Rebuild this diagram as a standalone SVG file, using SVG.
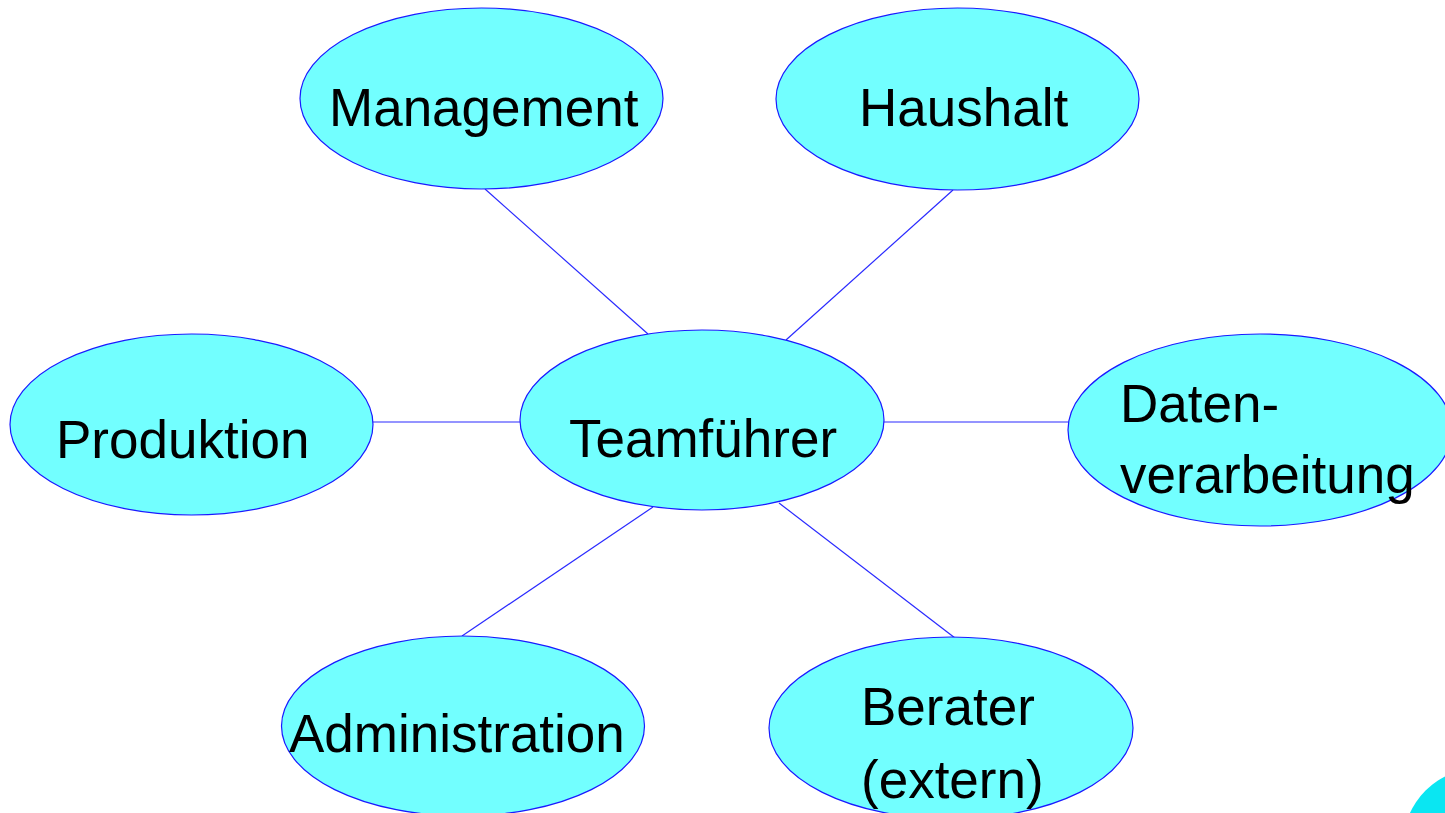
<svg xmlns="http://www.w3.org/2000/svg" width="1445" height="813" viewBox="0 0 1445 813">
  <style>
    .node ellipse { fill: #72ffff; stroke: #1a1aff; stroke-width: 1.2; }
    .node text { font-family: "Liberation Sans", Arial, sans-serif; font-size: 53px; fill: #000; }
    #connectors line { stroke: #2a2aff; stroke-width: 1.2; }
  </style>
  <rect x="0" y="0" width="1445" height="813" fill="#ffffff"/>

  <!-- spokes from the central node -->
  <g id="connectors">
    <line x1="485" y1="189" x2="648" y2="334"/>
    <line x1="953" y1="190" x2="786" y2="340"/>
    <line x1="373" y1="422" x2="520" y2="422"/>
    <line x1="884" y1="422" x2="1068" y2="422"/>
    <line x1="462" y1="636" x2="653" y2="507"/>
    <line x1="779" y1="503" x2="955" y2="638"/>
  </g>

  <g id="management" class="node">
    <ellipse cx="481.5" cy="98.5" rx="181.5" ry="90.5"/>
    <text x="329" y="126">Management</text>
  </g>
  <g id="haushalt" class="node">
    <ellipse cx="957.5" cy="99" rx="181.5" ry="91"/>
    <text x="859" y="126">Haushalt</text>
  </g>
  <g id="produktion" class="node">
    <ellipse cx="191.5" cy="424.5" rx="181.5" ry="90.5"/>
    <text x="56" y="458">Produktion</text>
  </g>
  <g id="teamfuehrer" class="node">
    <ellipse cx="702" cy="420" rx="182" ry="90"/>
    <text x="569" y="457">Teamführer</text>
  </g>
  <g id="datenverarbeitung" class="node">
    <ellipse cx="1260" cy="430" rx="192" ry="96"/>
    <text x="1120" y="422">Daten-</text>
    <text x="1120" y="493">verarbeitung</text>
  </g>
  <g id="administration" class="node">
    <ellipse cx="463" cy="726" rx="181.5" ry="90"/>
    <text x="289" y="752">Administration</text>
  </g>
  <g id="berater" class="node">
    <ellipse cx="951" cy="728" rx="182" ry="91"/>
    <text x="861" y="725">Berater</text>
    <text x="861" y="798">(extern)</text>
  </g>

  <!-- partial round shape at the lower right corner -->
  <circle cx="1480" cy="845" r="77" fill="#0ae6f2"/>
</svg>
